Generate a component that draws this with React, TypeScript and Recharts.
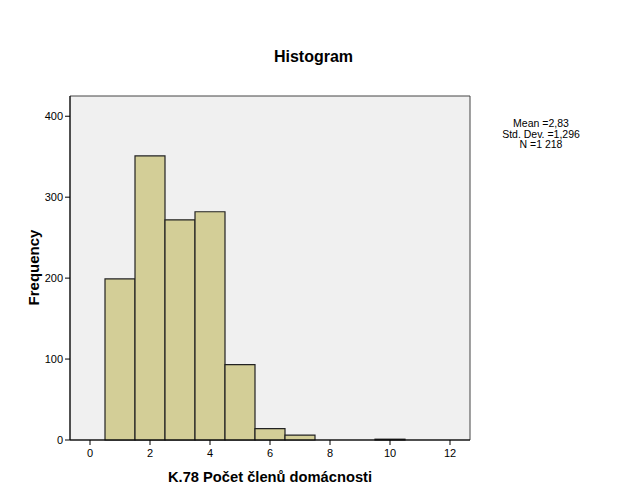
import {
  ComposedChart,
  ReferenceArea,
  Scatter,
  XAxis,
  YAxis,
} from "recharts";

const binLo = [0.5, 1.5, 2.5, 3.5, 4.5, 5.5, 6.5, 9.5];
const binHi = [1.5, 2.5, 3.5, 4.5, 5.5, 6.5, 7.5, 10.5];
const counts = [199, 351, 272, 282, 93, 14, 6, 1];
const xTicks = [0, 2, 4, 6, 8, 10, 12];
const yTicks = [0, 100, 200, 300, 400];
const xDomain = [-2 / 3, 38 / 3];
const yDomain = [0, 425];
const statLines = ["Mean =2,83", "Std. Dev. =1,296", "N =1 218"];

const bins = counts.map((c, i) => ({
  lo: binLo[i],
  hi: binHi[i],
  mid: (binLo[i] + binHi[i]) / 2,
  count: c,
}));

const font = "Arial, 'Liberation Sans', sans-serif";

export default function App() {
  return (
    <div
      style={{
        position: "absolute",
        left: 0,
        top: 0,
        width: 627,
        height: 502,
        background: "#fff",
        fontFamily: font,
      }}
    >
      <ComposedChart
        width={627}
        height={502}
        data={bins}
        margin={{ top: 96, right: 157, bottom: 0, left: 0 }}
      >
        <XAxis
          type="number"
          dataKey="mid"
          domain={xDomain}
          ticks={xTicks}
          allowDataOverflow
          height={62}
          tickSize={5}
          tickMargin={4}
          stroke="#000"
          tick={{ fill: "#000", fontSize: 11, fontFamily: font }}
        />
        <YAxis
          type="number"
          domain={yDomain}
          ticks={yTicks}
          allowDataOverflow
          width={70}
          tickSize={5}
          tickMargin={2}
          stroke="#000"
          tick={{ fill: "#000", fontSize: 11, fontFamily: font }}
        />
        {/* plot background + frame */}
        <ReferenceArea
          x1={xDomain[0]}
          x2={xDomain[1]}
          y1={yDomain[0]}
          y2={yDomain[1]}
          fill="#f0f0f0"
          fillOpacity={1}
          stroke="#444"
          strokeWidth={1}
        />
        {bins.map((b) => (
          <ReferenceArea
            key={b.lo}
            x1={b.lo}
            x2={b.hi}
            y1={0}
            y2={b.count}
            fill="#d3ce97"
            fillOpacity={1}
            stroke="#222"
            strokeWidth={1.2}
          />
        ))}
        <Scatter dataKey="count" isAnimationActive={false} shape={() => <g />} />
      </ComposedChart>
      <div
        style={{
          position: "absolute",
          left: 0,
          width: 627,
          top: 48,
          textAlign: "center",
          fontWeight: "bold",
          fontSize: 16,
        }}
      >
        Histogram
      </div>
      <div
        style={{
          position: "absolute",
          left: 70,
          width: 400,
          top: 469,
          textAlign: "center",
          fontWeight: "bold",
          fontSize: 14.7,
        }}
      >
        K.78 Počet členů domácnosti
      </div>
      <div
        style={{
          position: "absolute",
          left: 33 - 60,
          width: 120,
          top: 268 - 9,
          textAlign: "center",
          fontWeight: "bold",
          fontSize: 15,
          transform: "rotate(-90deg)",
        }}
      >
        Frequency
      </div>
      <div
        style={{
          position: "absolute",
          left: 481,
          width: 120,
          top: 118,
          textAlign: "center",
          fontSize: 10.5,
          lineHeight: "10.5px",
        }}
      >
        {statLines.map((s) => (
          <div key={s}>{s}</div>
        ))}
      </div>
    </div>
  );
}
